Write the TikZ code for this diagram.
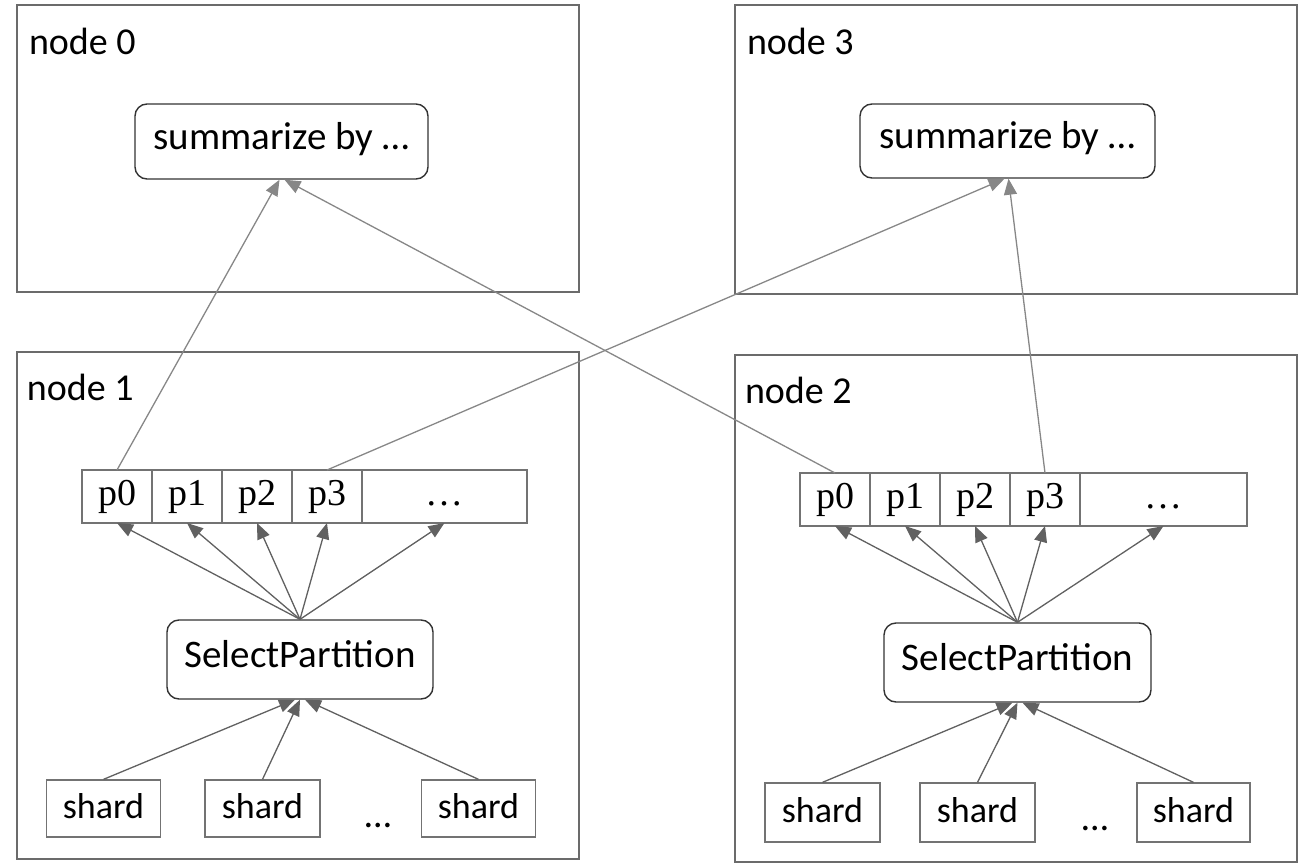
\documentclass[tikz,border=0pt]{standalone}
\usepackage{fontspec}
\setmainfont{Carlito}
\newfontfamily\cellfont{Liberation Serif}
\usetikzlibrary{arrows.meta,positioning}

\begin{document}
\begin{tikzpicture}[x=1pt,y=-1pt,>={Triangle[length=16pt,width=13pt]},
    host/.style={draw=black!58,line width=2.4pt,minimum width=562pt},
    hostlabel/.style={inner sep=0pt,font=\fontsize{38}{44}\selectfont},
    op/.style={draw=black!80,line width=1.4pt,rounded corners=12pt,inner sep=2pt,
      text height=30pt,text depth=14pt,font=\fontsize{39}{45}\selectfont},
    cell/.style={draw=black!55,line width=1.3pt,outer sep=0pt,inner sep=2pt,minimum width=70pt,minimum height=53pt,
      text height=26pt,text depth=8pt,font=\cellfont\fontsize{38}{44}\selectfont},
    shardbox/.style={draw=black!55,line width=1.3pt,inner sep=2pt,minimum width=114pt,minimum height=57pt,
      text height=26pt,text depth=7pt,font=\fontsize{36}{42}\selectfont},
    inner/.style={->,draw=black!62,fill=black!62,line width=1.3pt},
    cross/.style={->,draw=black!47,line width=1.3pt}]

  \useasboundingbox (0,0) rectangle (1304,864);

  % the four hosts
  \node[host,minimum height=287pt] (h0) at (298,148.5) {};
  \node[host,minimum height=289pt] (h3) at (1016,149.5) {};
  \node[host,minimum height=507pt] (h1) at (298,605.5) {};
  \node[host,minimum height=507pt] (h2) at (1016,608.5) {};

  \node[hostlabel,below right=24pt and 13pt of h0.north west] (l0) {node 0};
  \node[hostlabel,below right=24pt and 13pt of h3.north west] (l3) {node 3};
  \node[hostlabel,below right=23pt and 11pt of h1.north west] (l1) {node 1};
  \node[hostlabel,below right=23pt and 11pt of h2.north west] (l2) {node 2};

  % summarize
  \node[op,minimum width=293pt,minimum height=75pt] (sum0) at (281.5,141.5) {summarize by …};
  \node[op,minimum width=295pt,minimum height=74pt] (sum3) at (1007.5,141) {summarize by …};

  % partitions
  \foreach \i in {0,...,3} {
    \node[cell] (a\i) at (117+70*\i,496.5) {p\i};
    \node[cell] (b\i) at (835+70*\i,499.5) {p\i};
  }
  \node[cell,minimum width=165pt,right=0pt of a3] (a4) {…};
  \node[cell,minimum width=167pt,right=0pt of b3] (b4) {…};

  \node[op,minimum width=266pt,minimum height=79pt] (sp1) at (300,659.5) {SelectPartition};
  \node[op,minimum width=267pt,minimum height=79pt] (sp2) at (1017.5,662.5) {SelectPartition};

  % shards
  \node[shardbox] (s10) at (103.5,808.5) {shard};
  \node[shardbox,minimum width=115pt] (s11) at (262.5,808.5) {shard};
  \node[shardbox] (s12) at (478.5,808.5) {shard};
  \node[hostlabel,anchor=base] (d1) at (378,827) {…};
  \node[shardbox,minimum width=115pt,minimum height=59pt] (s20) at (822.5,812.5) {shard};
  \node[shardbox,minimum width=115pt,minimum height=59pt] (s21) at (977.5,812.5) {shard};
  \node[shardbox,minimum width=113pt,minimum height=59pt] (s22) at (1193.5,812.5) {shard};
  \node[hostlabel,anchor=base] (d2) at (1095,830) {…};

  \foreach \i in {0,...,4} {
    \draw[inner] (sp1.north) -- (a\i.south);
    \draw[inner] (sp2.north) -- (b\i.south);
  }
  \draw[inner] (s10.north) -- ([xshift=-5pt]sp1.south);
  \draw[inner] (s11.north) -- (sp1.south);
  \draw[inner] (s12.north) -- ([xshift=5pt]sp1.south);
  \draw[inner] (s20.north) -- ([xshift=-5pt]sp2.south);
  \draw[inner] (s21.north) -- (sp2.south);
  \draw[inner] (s22.north) -- ([xshift=5pt]sp2.south);

  % exchange between hosts
  \draw[cross] (a0.north) -- ([xshift=-2pt]sum0.south);
  \draw[cross] (b0.north) -- ([xshift=3pt]sum0.south);
  \draw[cross] (a3.north) -- ([xshift=-3pt]sum3.south);
  \draw[cross] (b3.north) -- ([xshift=1pt]sum3.south);
\end{tikzpicture}
\end{document}
